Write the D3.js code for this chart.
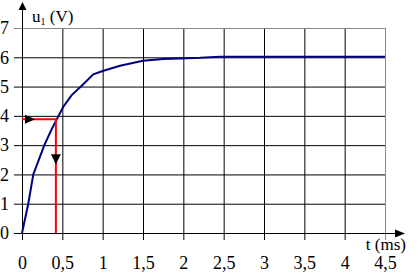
<!DOCTYPE html>
<html>
<head>
<meta charset="utf-8">
<script src="https://cdn.jsdelivr.net/npm/d3@7"></script>
<style>
body { margin: 0; background: #fff; }
svg { display: block; }
</style>
</head>
<body>
<svg id="chart" width="420" height="280"></svg>
<script>
// values
var xTicks = [0, 0.5, 1, 1.5, 2, 2.5, 3, 3.5, 4, 4.5];
var yTicks = [0, 1, 2, 3, 4, 5, 6, 7];
var tData = [0, 0.078, 0.14, 0.2, 0.277, 0.36, 0.43, 0.512, 0.616, 0.74, 0.884, 1.0, 1.215, 1.5, 1.75, 1.96, 2.21, 2.46, 3, 3.5, 4, 4.5];
var uData = [0, 1, 2, 2.44, 3, 3.5, 3.88, 4.31, 4.71, 5.03, 5.42, 5.53, 5.71, 5.88, 5.94, 5.96, 5.98, 6.02, 6.02, 6.02, 6.02, 6.02];
var markT = 0.42, markU = 3.88;

var serif = "'Liberation Serif', 'Times New Roman', 'DejaVu Serif', serif";

var svg = d3.select("#chart");

var x = d3.scaleLinear().domain([0, 4.5]).range([22, 385]);
var y = d3.scaleLinear().domain([0, 7]).range([233, 28]);

var fmt = function(d) { return String(d).replace(".", ","); };

// grid lines
svg.append("g").selectAll("line")
    .data(xTicks.slice(1))
    .enter().append("line")
    .attr("x1", function(d) { return x(d) + 0.5; })
    .attr("x2", function(d) { return x(d) + 0.5; })
    .attr("y1", y(7))
    .attr("y2", y(0) + 7)
    .attr("stroke", function(d) { return d == 4.5 ? "#888" : "#000"; })
    .attr("stroke-width", 1);

svg.append("g").selectAll("line")
    .data(yTicks.slice(1))
    .enter().append("line")
    .attr("x1", x(0) - 8)
    .attr("x2", x(4.5))
    .attr("y1", function(d) { return y(d) + 0.5; })
    .attr("y2", function(d) { return y(d) + 0.5; })
    .attr("stroke", function(d) { return d == 7 ? "#888" : "#000"; })
    .attr("stroke-width", 1);

// axes lines with arrows
svg.append("line")
    .attr("x1", x(0) - 8).attr("x2", 398)
    .attr("y1", y(0) + 0.5).attr("y2", y(0) + 0.5)
    .attr("stroke", "#000");
svg.append("path")
    .attr("d", "M405," + (y(0) + 0.5) + "L395," + (y(0) - 3.5) + "L395," + (y(0) + 4.5) + "Z")
    .attr("fill", "#000");

svg.append("line")
    .attr("x1", x(0) + 0.5).attr("x2", x(0) + 0.5)
    .attr("y1", y(0) + 7).attr("y2", 8)
    .attr("stroke", "#000");
svg.append("path")
    .attr("d", "M" + (x(0) + 0.5) + ",2L" + (x(0) - 3.5) + ",10L" + (x(0) + 4.5) + ",10Z")
    .attr("fill", "#000");

// tick labels
var xAxis = d3.axisBottom(x).tickValues(xTicks).tickSize(0).tickPadding(0).tickFormat(fmt);
var gx = svg.append("g").attr("transform", "translate(0,256)").call(xAxis);
gx.select(".domain").remove();
gx.selectAll("text").style("font-size", "18px").style("font-family", serif).attr("fill", "#000");

var yAxis = d3.axisLeft(y).tickValues(yTicks).tickSize(0).tickPadding(0).tickFormat(d3.format("d"));
var gy = svg.append("g").call(yAxis);
gy.select(".domain").remove();
gy.selectAll("text").attr("text-anchor", "start").attr("x", 0)
    .style("font-size", "18px").style("font-family", serif).attr("fill", "#000");

// axis titles
var yt = svg.append("text").attr("x", 32).attr("y", 22)
    .style("font-size", "17px").style("font-family", serif);
yt.append("tspan").text("u");
yt.append("tspan").style("font-size", "10px").attr("dy", 3).text("1");
yt.append("tspan").attr("dy", -3).text(" (V)");

svg.append("text").attr("x", 406).attr("y", 250).attr("text-anchor", "end")
    .style("font-size", "17px").style("font-family", serif).text("t (ms)");

// curve
var pts = tData.map(function(t, i) { return [t, uData[i]]; });
svg.append("path")
    .datum(pts)
    .attr("fill", "none")
    .attr("stroke", "#000080")
    .attr("stroke-width", 2)
    .attr("d", d3.line().x(function(d) { return x(d[0]); }).y(function(d) { return y(d[1]); }));

// red construction lines
svg.append("path")
    .attr("d", "M" + x(0) + "," + y(markU) + "H" + x(markT) + "V" + y(0))
    .attr("fill", "none")
    .attr("stroke", "#ff0000")
    .attr("stroke-width", 2);

// arrow heads on red lines
svg.append("path")
    .attr("d", "M" + (x(0) + 13) + "," + y(markU) + "l-10,-4.5v9z")
    .attr("fill", "#000");
svg.append("path")
    .attr("d", "M" + x(markT) + "," + (y(markU) + 45) + "l-5,-10h10z")
    .attr("fill", "#000");
</script>
</body>
</html>
